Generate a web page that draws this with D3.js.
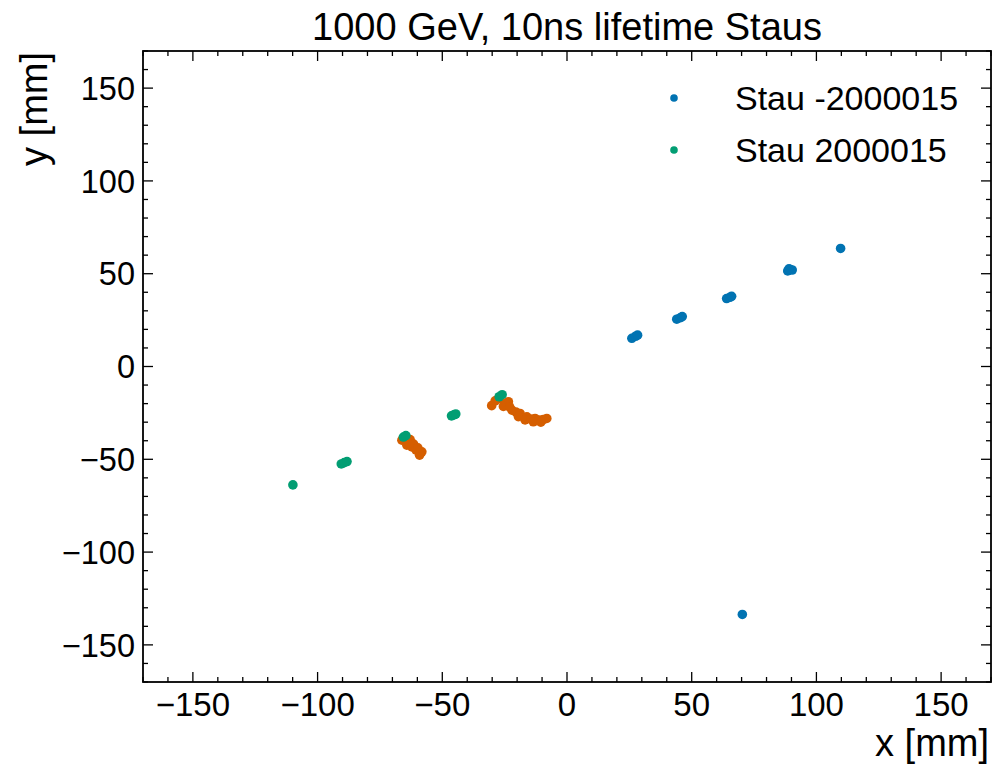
<!DOCTYPE html>
<html>
<head>
<meta charset="utf-8">
<script src="https://cdn.jsdelivr.net/npm/d3@7"></script>
<style>
  body { margin: 0; background: #fff; }
  text { font-family: "Liberation Sans", Arial, sans-serif; fill: #000; }
</style>
</head>
<body>
<div id="chart"></div>
<script>
// data (mm)
const blueX = [26.0, 27.5, 28.3, 44.0, 45.5, 46.2, 64.0, 65.3, 66.0, 88.5, 89.5, 90.3, 89.0, 109.7, 70.3];
const blueY = [15.2, 16.3, 16.9, 25.5, 26.3, 26.9, 36.6, 37.3, 37.8, 51.5, 52.2, 52.0, 52.6, 63.6, -133.6];

const greenX = [-109.9, -90.5, -89.3, -88.2, -46.3, -45.3, -44.6, -65.6, -64.6, -27.2, -26.0];
const greenY = [-63.8, -52.5, -51.8, -51.2, -26.6, -26.0, -25.6, -38.0, -37.2, -16.3, -15.2];

const orangeX = [-66.2, -62.9, -64.2, -62.2, -63.5, -61.5, -58.2, -59.1, -60.5, -59.8,
  -30.2, -28.8, -27.5, -24.8, -23.5, -25.5, -22.1, -23.0, -20.5, -18.8, -19.5, -16.1, -16.8,
  -14.5, -12.8, -13.5, -11.0, -9.5, -8.1, -10.5];
const orangeY = [-39.7, -39.4, -42.4, -43.3, -41.0, -41.8, -46.0, -47.8, -45.0, -43.8,
  -21.1, -18.5, -17.5, -19.9, -19.0, -21.5, -23.5, -21.8, -24.5, -25.3, -27.0, -27.1, -28.8,
  -28.3, -28.0, -29.8, -28.8, -28.6, -28.0, -30.0];

const majorTicks = [-150, -100, -50, 0, 50, 100, 150];
const legendLabels = ["Stau -2000015", "Stau 2000015"];
const colors = {blue: "#0173b2", green: "#029e73", orange: "#d55e00"};

const width = 996, height = 767;
const margin = {top: 51, right: 5, bottom: 85, left: 143};
const innerWidth = width - margin.left - margin.right;
const innerHeight = height - margin.top - margin.bottom;

const svg = d3.select("#chart").append("svg")
  .attr("width", width)
  .attr("height", height);

const g = svg.append("g")
  .attr("transform", `translate(${margin.left},${margin.top})`);

const xScale = d3.scaleLinear().domain([-170, 170]).range([0, innerWidth]);
const yScale = d3.scaleLinear().domain([-170, 170]).range([innerHeight, 0]);

const minorTicks = d3.range(-170, 171, 10).filter(d => d % 50 !== 0);

// ticks pointing inward on all four sides
const tickGroup = g.append("g").attr("stroke", "#000").attr("stroke-width", 1.3);
function drawTicks(vals, len) {
  vals.forEach(v => {
    const x = xScale(v), y = yScale(v);
    tickGroup.append("line").attr("x1", x).attr("x2", x).attr("y1", innerHeight).attr("y2", innerHeight - len);
    tickGroup.append("line").attr("x1", x).attr("x2", x).attr("y1", 0).attr("y2", len);
    tickGroup.append("line").attr("x1", 0).attr("x2", len).attr("y1", y).attr("y2", y);
    tickGroup.append("line").attr("x1", innerWidth).attr("x2", innerWidth - len).attr("y1", y).attr("y2", y);
  });
}
drawTicks(majorTicks, 10);
drawTicks(minorTicks, 5);

const fmt = d => d < 0 ? "\u2212" + Math.abs(d) : String(d);

// tick labels
g.append("g").selectAll("text")
  .data(majorTicks)
  .join("text")
  .attr("x", d => xScale(d))
  .attr("y", innerHeight + 34)
  .attr("text-anchor", "middle")
  .style("font-size", "33px")
  .text(fmt);

g.append("g").selectAll("text")
  .data(majorTicks)
  .join("text")
  .attr("x", -8)
  .attr("y", d => yScale(d))
  .attr("dy", "0.36em")
  .attr("text-anchor", "end")
  .style("font-size", "32.5px")
  .text(fmt);

// points
const series = [
  {x: orangeX, y: orangeY, c: colors.orange},
  {x: blueX, y: blueY, c: colors.blue},
  {x: greenX, y: greenY, c: colors.green}
];
series.forEach(s => {
  g.append("g").selectAll("circle")
    .data(s.x.map((x, i) => [x, s.y[i]]))
    .join("circle")
    .attr("cx", d => xScale(d[0]))
    .attr("cy", d => yScale(d[1]))
    .attr("r", 4.8)
    .attr("fill", s.c);
});

// frame
g.append("rect")
  .attr("width", innerWidth)
  .attr("height", innerHeight)
  .attr("fill", "none")
  .attr("stroke", "#000")
  .attr("stroke-width", 1.8);

// legend
const legend = g.append("g");
legendLabels.forEach((lab, i) => {
  const cy = 47 + i * 52;
  legend.append("circle")
    .attr("cx", 674 - margin.left)
    .attr("cy", cy)
    .attr("r", 3.8)
    .attr("fill", i === 0 ? colors.blue : colors.green);
  legend.append("text")
    .attr("x", 735 - margin.left)
    .attr("y", cy)
    .attr("dy", "0.36em")
    .style("font-size", "34px")
    .text(lab);
});

// title and axis labels
svg.append("text")
  .attr("x", margin.left + innerWidth / 2)
  .attr("y", 40)
  .attr("text-anchor", "middle")
  .style("font-size", "38px")
  .text("1000 GeV, 10ns lifetime Staus");

svg.append("text")
  .attr("x", margin.left + innerWidth - 2)
  .attr("y", 756)
  .attr("text-anchor", "end")
  .style("font-size", "38px")
  .text("x [mm]");

svg.append("text")
  .attr("transform", `translate(47,${margin.top + 1}) rotate(-90)`)
  .attr("text-anchor", "end")
  .style("font-size", "38px")
  .text("y [mm]");
</script>
</body>
</html>
